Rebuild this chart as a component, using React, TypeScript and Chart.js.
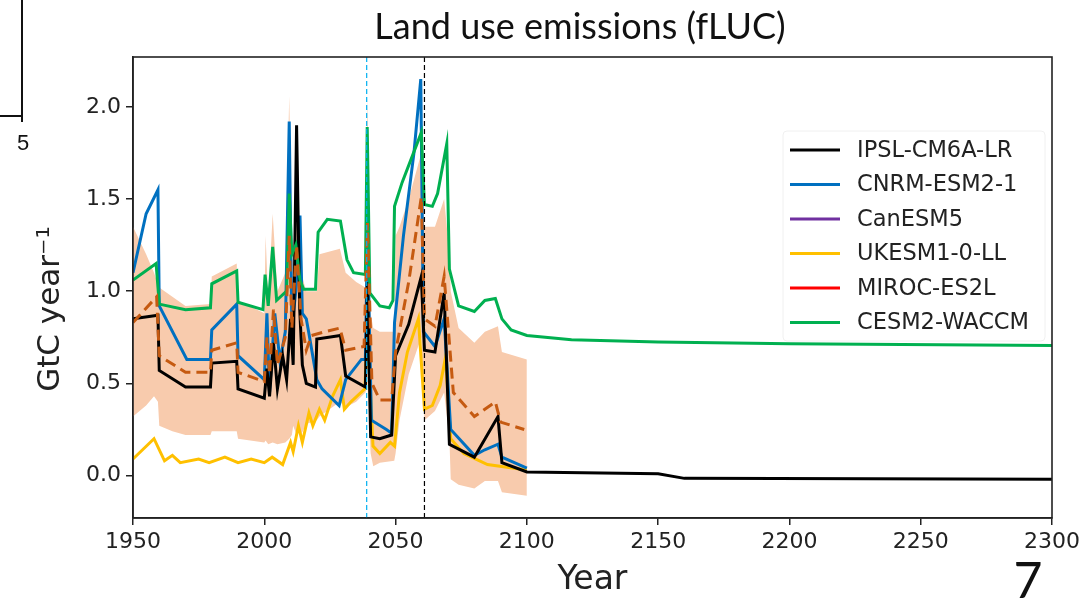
import React, { useEffect, useRef } from "react";
import { Chart, registerables } from "chart.js";

Chart.register(...registerables);

const chartTitle = "Land use emissions (fLUC)";
const xAxisLabel = "Year";
const yAxisLabel = "GtC year⁻¹";
const xTickValues = [1950, 2000, 2050, 2100, 2150, 2200, 2250, 2300];
const yTickValues = [0, 0.5, 1, 1.5, 2];
const markerYears = [2039, 2061];
const markerColors = ["#00B0F0", "#000000"];

const modelNames = ["IPSL-CM6A-LR", "CNRM-ESM2-1", "CanESM5", "UKESM1-0-LL", "MIROC-ES2L", "CESM2-WACCM"];
const modelColors = ["#000000", "#0070C0", "#7030A0", "#FFC000", "#FF0000", "#00B050"];

const ipsl: [number, number][] = [
  [1950, 0.85], [1959.5, 0.87], [1960, 0.57], [1970, 0.48], [1979.5, 0.48], [1980, 0.61], [1989.5, 0.62],
  [1990, 0.47], [2000, 0.42], [2001, 0.58], [2002, 0.43], [2003.5, 0.72], [2005, 0.47], [2007, 0.65],
  [2008.5, 0.52], [2010, 0.85], [2011, 0.6], [2012.3, 1.9], [2013.5, 0.9], [2014.5, 0.6], [2016, 0.5],
  [2019.5, 0.48], [2020, 0.74], [2029, 0.76], [2031, 0.54], [2038.5, 0.48], [2039.3, 1.05], [2040.5, 0.21],
  [2044, 0.2], [2048.5, 0.22], [2050, 0.65], [2055, 0.82], [2059.8, 1.08], [2061, 0.68], [2065, 0.67],
  [2068.5, 0.99], [2070.5, 0.17], [2080, 0.1], [2089, 0.32], [2090.5, 0.07], [2100, 0.02], [2150, 0.01],
  [2160, -0.015], [2300, -0.02],
];

const cnrm: [number, number][] = [
  [1950, 1.1], [1955, 1.42], [1959.5, 1.55], [1960, 0.92], [1970.5, 0.63], [1979.5, 0.63], [1980, 0.79],
  [1989.5, 0.93], [1990, 0.65], [2000, 0.52], [2001, 0.88], [2002, 0.45], [2004, 0.88], [2006, 0.62],
  [2008, 0.78], [2009.5, 1.92], [2010.5, 0.8], [2012, 1.0], [2013.6, 1.41], [2014.5, 0.88], [2016, 0.85],
  [2017, 0.77], [2020, 0.52], [2022, 0.47], [2028.5, 0.38], [2031, 0.52], [2037, 0.63], [2038.5, 0.63],
  [2039.3, 1.3], [2040.8, 0.3], [2046.5, 0.25], [2048.5, 0.23], [2049.6, 0.83], [2053, 1.3], [2057, 1.75],
  [2059.6, 2.15], [2060.6, 0.78], [2065, 0.7], [2068.5, 0.85], [2071, 0.25], [2080, 0.11], [2084, 0.14],
  [2089, 0.17], [2090.5, 0.1], [2100, 0.04],
];

const canesm: [number, number][] = [];

const ukesm: [number, number][] = [
  [1950, 0.09], [1958, 0.2], [1962, 0.08], [1965, 0.11], [1968, 0.07], [1975, 0.09], [1979, 0.07],
  [1985, 0.1], [1990, 0.07], [1995, 0.09], [2000, 0.07], [2003, 0.1], [2007, 0.06], [2010, 0.18],
  [2011, 0.13], [2013, 0.27], [2014.5, 0.18], [2017, 0.34], [2018.5, 0.27], [2021, 0.36], [2023, 0.3],
  [2026, 0.43], [2029, 0.52], [2030.5, 0.36], [2033, 0.4], [2038.3, 0.47], [2039.3, 0.8], [2041.4, 0.16],
  [2044, 0.12], [2048, 0.18], [2049.6, 0.16], [2051.5, 0.45], [2054.5, 0.67], [2058.7, 0.85], [2061, 0.36],
  [2064, 0.38], [2067, 0.49], [2069, 0.64], [2071, 0.2], [2076, 0.12], [2085, 0.06], [2100, 0.03],
];

const miroc: [number, number][] = [];

const cesm: [number, number][] = [
  [1950, 1.06], [1958.8, 1.15], [1960, 0.93], [1970, 0.9], [1979.5, 0.91], [1980, 1.04], [1989.5, 1.11],
  [1990, 0.94], [1999.5, 0.9], [2000.3, 1.09], [2001.5, 0.92], [2003.2, 1.24], [2004.7, 0.95], [2008.5, 1.0],
  [2009.5, 1.53], [2010.5, 1.2], [2012, 1.25], [2013.6, 1.06], [2015, 1.01], [2019.5, 1.01], [2020.5, 1.32],
  [2024, 1.39], [2029, 1.38], [2031.5, 1.17], [2034, 1.1], [2038.5, 1.09], [2039.2, 1.89], [2040.2, 0.99],
  [2044, 0.92], [2047.6, 0.91], [2049, 0.95], [2049.6, 1.46], [2052.5, 1.59], [2059.8, 1.86], [2061, 1.47],
  [2064, 1.46], [2066, 1.53], [2069.5, 1.8], [2070.5, 1.12], [2074, 0.92], [2080, 0.89], [2084, 0.95],
  [2088, 0.96], [2090.5, 0.85], [2094, 0.79], [2100, 0.76], [2117, 0.737], [2150, 0.724], [2200, 0.715],
  [2300, 0.705],
];

const ensembleMean: [number, number][] = [
  [1950, 0.83], [1959, 0.97], [1960, 0.65], [1970, 0.56], [1979.5, 0.56], [1980, 0.68], [1989.5, 0.72],
  [1990, 0.56], [2000, 0.51], [2001, 0.75], [2002, 0.55], [2003.5, 0.9], [2005, 0.6], [2008, 0.75],
  [2009.5, 1.3], [2010.5, 0.8], [2012.3, 1.25], [2014, 0.85], [2016, 0.68], [2018, 0.76], [2023, 0.78],
  [2028.8, 0.8], [2031, 0.68], [2038, 0.7], [2039.3, 1.37], [2041, 0.5], [2044, 0.41], [2048.5, 0.41],
  [2050, 0.67], [2055, 1.05], [2059.8, 1.51], [2061, 0.85], [2065, 0.81], [2068.5, 1.08], [2072, 0.45],
  [2080, 0.32], [2088, 0.4], [2090, 0.29], [2099, 0.25],
];

const shadeYears = [
  1950, 1955, 1958, 1959.5, 1960, 1965, 1970, 1979.5, 1980, 1989.5, 1990, 2000, 2000.5, 2001.5, 2003.2,
  2005, 2008, 2009.5, 2010.5, 2011, 2012.3, 2013, 2014, 2016, 2020, 2021, 2028.8, 2031, 2035, 2038.5,
  2039.3, 2040.5, 2041.5, 2044, 2049.5, 2050, 2051.5, 2055, 2059.8, 2061, 2065, 2068.5, 2070.5, 2071,
  2074, 2080, 2084, 2089, 2090.5, 2100,
];
const shadeUpper = [
  1.35, 1.2, 1.1, 1.04, 1.02, 0.97, 0.92, 0.93, 1.08, 1.15, 0.95, 0.88, 1.3, 0.95, 1.42,
  1.0, 1.1, 2.06, 1.2, 1.15, 1.7, 1.3, 1.1, 1.0, 1.0, 1.2, 1.23, 1.1, 1.05, 1.02,
  2.05, 0.88, 0.8, 0.78, 0.78, 1.3, 1.35, 1.5, 1.75, 1.35, 1.35, 1.5, 1.2, 1.0,
  0.8, 0.72, 0.78, 0.81, 0.67, 0.63,
];
const shadeLower = [
  0.32, 0.38, 0.43, 0.4, 0.27, 0.24, 0.22, 0.22, 0.24, 0.24, 0.2, 0.18, 0.19, 0.17, 0.18,
  0.17, 0.18, 0.2, 0.22, 0.27, 0.22, 0.24, 0.22, 0.28, 0.3, 0.32, 0.4, 0.37, 0.4, 0.45,
  0.5, 0.12, 0.05, 0.07, 0.08, 0.12, 0.3, 0.55, 0.75, 0.3, 0.35, 0.45, 0.2, -0.02,
  -0.05, -0.07, -0.03, -0.03, -0.09, -0.11,
];

const modelSeries = [ipsl, cnrm, canesm, ukesm, miroc, cesm];
const modelOrder = [2, 3, 5, 4, 6, 1];

const toPoints = (pairs: [number, number][]) => pairs.map(([x, y]) => ({ x, y }));

const FONT = "'DejaVu Sans', sans-serif";

const overlayPlugin = {
  id: "overlay",
  afterDatasetsDraw(chart: any) {
    const { ctx, chartArea, scales } = chart;
    ctx.save();
    ctx.lineWidth = 1.2;
    ctx.setLineDash([5, 3]);
    markerYears.forEach((yr, i) => {
      const x = scales.x.getPixelForValue(yr);
      ctx.strokeStyle = markerColors[i];
      ctx.beginPath();
      ctx.moveTo(x, chartArea.top);
      ctx.lineTo(x, chartArea.bottom);
      ctx.stroke();
    });
    ctx.restore();
  },
  afterDraw(chart: any) {
    const { ctx, chartArea } = chart;
    ctx.save();
    // frame
    ctx.strokeStyle = "#222";
    ctx.lineWidth = 1.6;
    ctx.strokeRect(chartArea.left, chartArea.top, chartArea.right - chartArea.left, chartArea.bottom - chartArea.top);

    // legend
    const lx = 783, ly = 131, lw = 262, lh = 210;
    ctx.fillStyle = "rgba(255,255,255,0.8)";
    ctx.strokeStyle = "#f0f0f0";
    ctx.lineWidth = 1;
    ctx.beginPath();
    (ctx as any).roundRect ? (ctx as any).roundRect(lx, ly, lw, lh, 4) : ctx.rect(lx, ly, lw, lh);
    ctx.fill();
    ctx.stroke();
    const legendSets = chart.data.datasets.filter((d: any) => d.inLegend);
    ctx.font = `22.5px ${FONT}`;
    ctx.textBaseline = "middle";
    ctx.textAlign = "left";
    legendSets.forEach((d: any, i: number) => {
      const y = 150 + i * 34.5;
      ctx.strokeStyle = d.borderColor;
      ctx.lineWidth = 3;
      ctx.beginPath();
      ctx.moveTo(790, y);
      ctx.lineTo(840, y);
      ctx.stroke();
      ctx.fillStyle = "#222";
      ctx.fillText(d.label, 857, y + 1);
    });

    // title
    ctx.fillStyle = "#111";
    ctx.font = "36px Lato, sans-serif";
    ctx.textAlign = "center";
    ctx.textBaseline = "alphabetic";
    ctx.fillText(chartTitle, 580, 39);

    // axis labels
    ctx.font = `33px ${FONT}`;
    ctx.fillStyle = "#222";
    ctx.fillText(xAxisLabel, (chartArea.left + chartArea.right) / 2, 589);
    ctx.save();
    ctx.translate(59, 309);
    ctx.rotate(-Math.PI / 2);
    ctx.font = `31px ${FONT}`;
    ctx.fillText(yAxisLabel, 0, 0);
    ctx.restore();

    // slide decorations: neighbouring panel corner and page numbers
    ctx.strokeStyle = "#111";
    ctx.lineWidth = 2;
    ctx.beginPath();
    ctx.moveTo(22, 0);
    ctx.lineTo(22, 122);
    ctx.moveTo(0, 116);
    ctx.lineTo(22, 116);
    ctx.stroke();
    ctx.fillStyle = "#111";
    ctx.font = "22px 'Liberation Sans', sans-serif";
    ctx.textBaseline = "middle";
    ctx.fillText("5", 23, 144);
    ctx.font = "50px Lato, sans-serif";
    ctx.textBaseline = "alphabetic";
    ctx.fillText("7", 1028, 598);
    ctx.restore();
  },
};

export default function App() {
  const canvasRef = useRef<HTMLCanvasElement | null>(null);

  useEffect(() => {
    if (!canvasRef.current) return;
    const datasets: any[] = [
      {
        label: "lower",
        data: shadeYears.map((x, i) => ({ x, y: shadeLower[i] })),
        borderColor: "transparent",
        borderWidth: 0,
        pointRadius: 0,
        fill: false,
        order: 20,
      },
      {
        label: "upper",
        data: shadeYears.map((x, i) => ({ x, y: shadeUpper[i] })),
        borderColor: "transparent",
        backgroundColor: "#F8CBAD",
        borderWidth: 0,
        pointRadius: 0,
        fill: 0,
        order: 19,
      },
    ];
    modelSeries.forEach((s, i) => {
      datasets.push({
        label: modelNames[i],
        inLegend: true,
        data: toPoints(s),
        borderColor: modelColors[i],
        borderWidth: 3,
        pointRadius: 0,
        fill: false,
        tension: 0,
        order: modelOrder[i],
      });
    });
    datasets.push({
      label: "mean",
      data: toPoints(ensembleMean),
      borderColor: "#C55A11",
      borderWidth: 3,
      borderDash: [11, 6],
      pointRadius: 0,
      fill: false,
      order: 0,
    });

    const chart = new Chart(canvasRef.current, {
      type: "line",
      data: { datasets },
      options: {
        responsive: false,
        animation: false,
        layout: { padding: { top: 57, right: 40, left: 0, bottom: 0 } },
        plugins: { legend: { display: false }, tooltip: { enabled: false }, title: { display: false } },
        scales: {
          x: {
            type: "linear",
            min: 1950,
            max: 2300,
            afterBuildTicks: (s: any) => { s.ticks = xTickValues.map((v) => ({ value: v })); },
            afterFit: (s: any) => { s.height = 81; },
            ticks: {
              autoSkip: false,
              maxRotation: 0,
              padding: 4,
              color: "#222",
              font: { family: FONT, size: 22 },
              callback: (v: any) => String(v),
            },
            grid: { display: true, drawOnChartArea: false, drawTicks: true, tickLength: 7, color: "#222", lineWidth: 1.5 },
            border: { display: true, color: "#222", width: 1.6 },
          },
          y: {
            type: "linear",
            min: -0.23,
            max: 2.27,
            afterBuildTicks: (s: any) => { s.ticks = yTickValues.map((v) => ({ value: v })); },
            afterFit: (s: any) => { s.width = 133; },
            ticks: {
              padding: 5,
              color: "#222",
              font: { family: FONT, size: 22 },
              callback: (v: any) => Number(v).toFixed(1),
            },
            grid: { display: true, drawOnChartArea: false, drawTicks: true, tickLength: 7, color: "#222", lineWidth: 1.5 },
            border: { display: true, color: "#222", width: 1.6 },
          },
        },
      },
      plugins: [overlayPlugin],
    } as any);
    return () => chart.destroy();
  }, []);

  return (
    <div style={{ position: "fixed", left: 0, top: 0, width: 1092, height: 599, background: "#fff" }}>
      <canvas ref={canvasRef} width={1092} height={599} style={{ display: "block" }} />
    </div>
  );
}
